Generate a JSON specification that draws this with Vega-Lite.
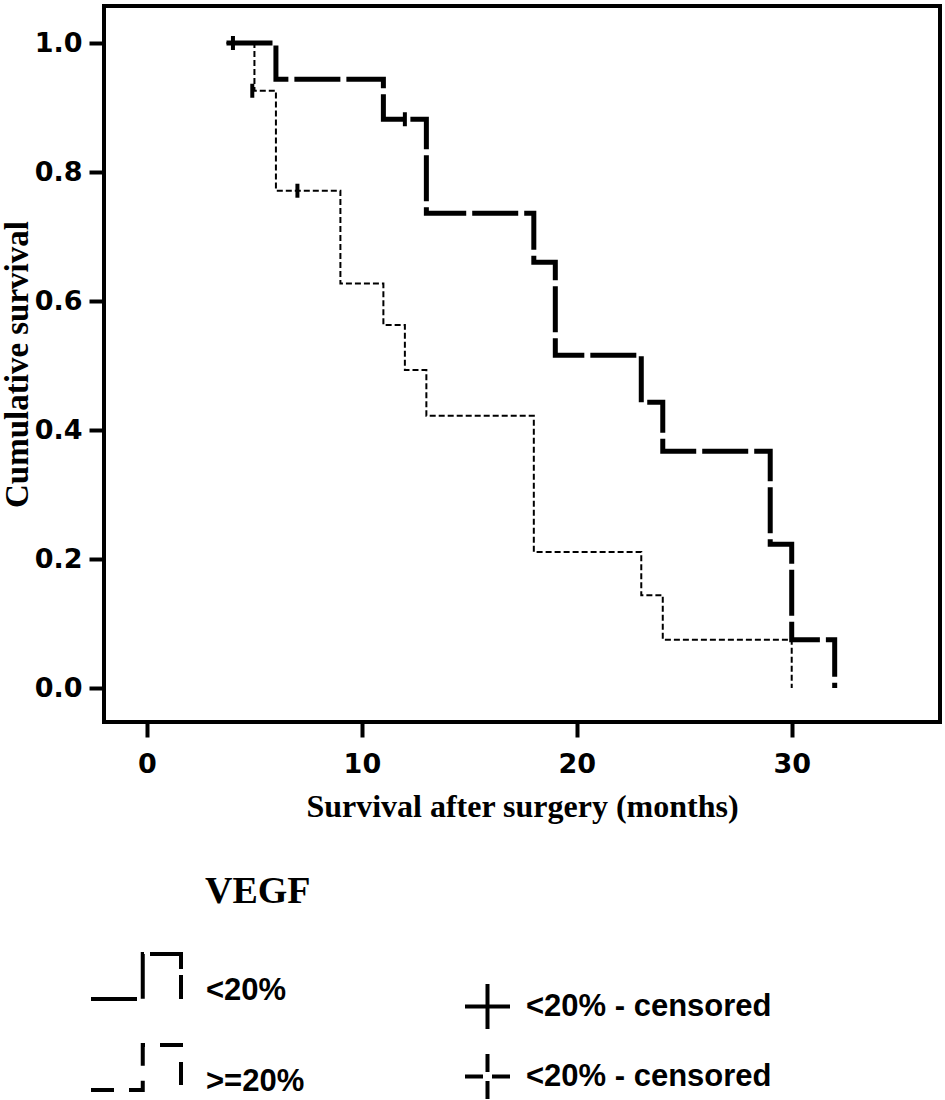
{
  "$schema": "https://vega.github.io/schema/vega-lite/v6.json",
  "autosize": {"type": "none"},
  "padding": {"left": 104, "top": 6, "right": 5, "bottom": 378},
  "width": 836,
  "height": 716,
  "background": "white",
  "datasets": {
    "curves": [
      {"group": ">=20%", "t": 3.7, "s": 1.0},
      {"group": ">=20%", "t": 5, "s": 0.926},
      {"group": ">=20%", "t": 6, "s": 0.771},
      {"group": ">=20%", "t": 9, "s": 0.627},
      {"group": ">=20%", "t": 11, "s": 0.563},
      {"group": ">=20%", "t": 12, "s": 0.493},
      {"group": ">=20%", "t": 13, "s": 0.422},
      {"group": ">=20%", "t": 18, "s": 0.211},
      {"group": ">=20%", "t": 23, "s": 0.144},
      {"group": ">=20%", "t": 24, "s": 0.075},
      {"group": ">=20%", "t": 30, "s": 0.0},
      {"group": "<20%", "t": 3.7, "s": 1.0},
      {"group": "<20%", "t": 6, "s": 0.944},
      {"group": "<20%", "t": 11, "s": 0.882},
      {"group": "<20%", "t": 13, "s": 0.736},
      {"group": "<20%", "t": 18, "s": 0.66},
      {"group": "<20%", "t": 19, "s": 0.516},
      {"group": "<20%", "t": 23, "s": 0.443},
      {"group": "<20%", "t": 24, "s": 0.367},
      {"group": "<20%", "t": 29, "s": 0.223},
      {"group": "<20%", "t": 30, "s": 0.075},
      {"group": "<20%", "t": 32, "s": 0.0}
    ],
    "censored": [
      {"group": "<20%", "cens": "<20% - censored", "t": 4, "s": 1.0},
      {"group": "<20%", "cens": "<20% - censored", "t": 12, "s": 0.882},
      {"group": ">=20%", "cens": ">=20% - censored", "t": 4.9, "s": 0.926},
      {"group": ">=20%", "cens": ">=20% - censored", "t": 7, "s": 0.771}
    ]
  },
  "encoding": {
    "x": {
      "field": "t", "type": "quantitative",
      "scale": {"domain": [-2, 36.9], "nice": false, "zero": false},
      "axis": {"values": [0, 10, 20, 30], "title": "Survival after surgery (months)", "labelPadding": 14, "titlePadding": 14}
    },
    "y": {
      "field": "s", "type": "quantitative",
      "scale": {"domain": [-0.0527, 1.0574], "nice": false, "zero": false},
      "axis": {"values": [0, 0.2, 0.4, 0.6, 0.8, 1.0], "format": ".1f", "title": "Cumulative survival", "labelPadding": 7, "titlePadding": 0}
    }
  },
  "layer": [
    {
      "data": {"name": "curves"},
      "mark": {"type": "line", "interpolate": "step-after", "color": "black", "strokeCap": "butt", "strokeJoin": "miter"},
      "encoding": {
        "strokeDash": {
          "condition": {"test": "datum.group === '>=20%'", "value": [6, 3]},
          "field": "group", "type": "nominal",
          "scale": {"domain": ["<20%", ">=20%"], "range": [[46, 6], [23, 15]]},
          "legend": {
            "title": "VEGF", "orient": "none", "legendX": -15, "legendY": 867, "direction": "vertical",
            "titleFont": "Liberation Serif", "titleFontSize": 38, "titleFontWeight": "bold", "titleColor": "black", "titlePadding": 33,
            "labelFont": "Liberation Sans", "labelFontSize": 31, "labelFontWeight": "bold", "labelColor": "black", "labelOffset": 23, "labelLimit": 400,
            "symbolType": "M-1,0.18H0.15V-0.82H1V0.18", "symbolSize": 8100, "symbolStrokeWidth": 4, "symbolStrokeColor": "black", "symbolFillColor": "transparent",
            "rowPadding": 27, "padding": 0,
            "encode": {
              "title": {"update": {"dx": {"value": 116}}}
            }
          }
        },
        "strokeWidth": {"condition": {"test": "datum.group === '<20%'", "value": 5}, "value": 2}
      }
    },
    {
      "data": {"name": "censored"},
      "mark": {"type": "point", "shape": "M0,-1V1", "size": 196, "filled": false, "stroke": "black", "strokeWidth": 4, "opacity": 1},
      "encoding": {
        "strokeDash": {
          "field": "cens", "type": "nominal",
          "scale": {"domain": ["<20% - censored", ">=20% - censored"], "range": [[1, 0], [18, 9]]},
          "legend": {
            "title": null, "orient": "none", "legendX": 359, "legendY": 976, "direction": "vertical",
            "labelExpr": "'<20% - censored'",
            "labelFont": "Liberation Sans", "labelFontSize": 31, "labelFontWeight": "bold", "labelColor": "black", "labelOffset": 14, "labelLimit": 400,
            "symbolType": "M-1,0H1M0,-1V1", "symbolSize": 2025, "symbolStrokeWidth": 4, "symbolStrokeColor": "black", "symbolFillColor": "transparent",
            "rowPadding": 9, "padding": 0,
            "encode": {
              "labels": {"update": {"dy": {"value": 5}}}
            }
          }
        }
      }
    }
  ],
  "resolve": {"scale": {"strokeDash": "independent"}, "legend": {"strokeDash": "independent"}},
  "config": {
    "view": {"stroke": "black", "strokeWidth": 4},
    "axis": {
      "domain": false, "grid": false,
      "ticks": true, "tickSize": 15, "tickWidth": 4, "tickColor": "black",
      "labelFont": "DejaVu Sans", "labelFontSize": 27, "labelFontWeight": "bold", "labelColor": "black",
      "titleFont": "Liberation Serif", "titleFontSize": 33, "titleFontWeight": "bold", "titleColor": "black"
    },
    "axisX": {"titleFontSize": 32}
  }
}
